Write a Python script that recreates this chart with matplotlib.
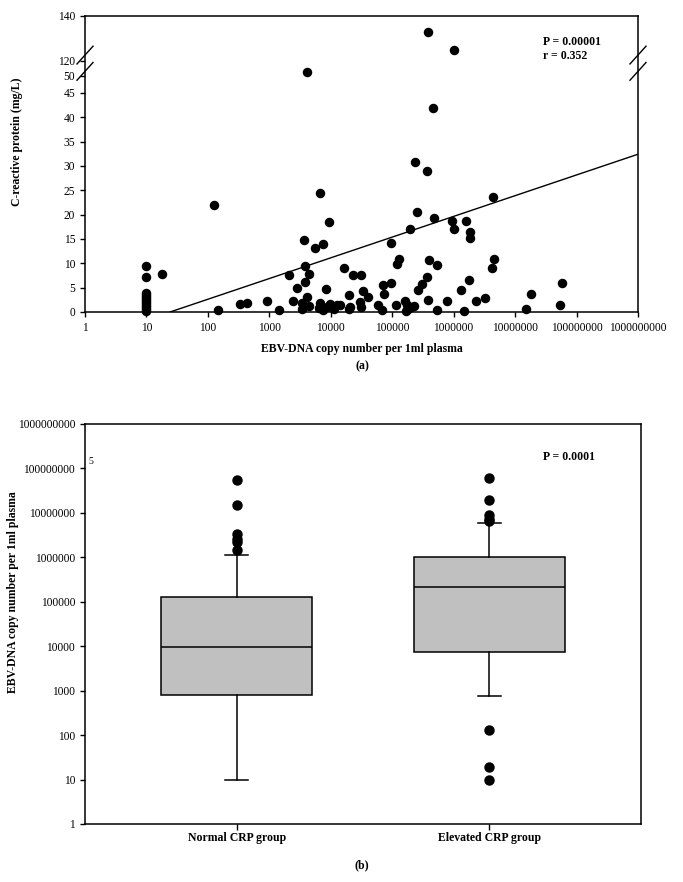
import numpy as np
import matplotlib
matplotlib.use("Agg")
import matplotlib.pyplot as plt
from matplotlib.scale import FuncScale

plt.rcParams['font.family'] = ['Liberation Serif', 'DejaVu Serif']

# (a) scatter: EBV-DNA copies vs CRP
ebv_copies = [10, 10, 10, 10, 10, 10, 10, 10, 10, 10, 10, 10,
              18, 125, 148, 334, 430, 900, 1445, 2120, 2440, 2870, 3600, 3420, 3420,
              3830, 3870, 4170, 4450, 4470, 4080, 5640, 6800, 7520, 8300, 9300,
              6700, 6500, 7400, 8600, 9800, 11300, 12600, 14200,
              16700, 22900, 31000, 34000, 39600, 19600, 19600, 20500, 30000, 31000,
              57600, 68000, 69600, 74000, 95000, 96000, 116000, 121000, 127000,
              163000, 174000, 178000, 200000, 223000, 165000, 196000, 237000, 255000,
              258000, 305000, 367000, 363000, 381000, 390000, 382000, 454000, 483000,
              535000, 535000, 780000, 940000, 1020000, 1020000, 1340000, 1480000,
              1600000, 1860000, 1840000, 1780000, 2350000, 3200000, 4200000, 4600000,
              4400000, 15000000, 18000000, 54000000, 59000000]
crp = [9.4, 7.1, 3.9, 3.5, 3.1, 2.7, 2.3, 1.9, 1.5, 1.1, 0.7, 0.3,
       7.8, 21.9, 0.4, 1.6, 1.8, 2.3, 0.5, 7.5, 2.3, 4.9, 14.8, 1.8, 0.7,
       9.4, 6.2, 3.0, 7.8, 1.2, 51, 13.1, 24.4, 13.9, 4.8, 18.5,
       1.9, 0.8, 0.4, 1.1, 1.6, 0.7, 1.4, 1.5,
       9.1, 7.5, 7.6, 4.3, 3.1, 3.5, 0.6, 1.1, 2.1, 1.0,
       1.4, 0.5, 5.6, 3.6, 6.0, 14.1, 1.4, 9.8, 10.9,
       2.3, 1.4, 0.6, 1.0, 1.3, 0.3, 17.1, 30.9, 20.6,
       4.6, 5.8, 7.2, 28.9, 132.8, 10.6, 2.4, 41.8, 19.4,
       9.65, 0.5, 2.3, 18.7, 17.0, 125, 4.5, 0.3,
       18.7, 16.5, 15.1, 6.6, 2.2, 2.9, 9.0, 10.8,
       23.6, 0.7, 3.7, 1.4, 6.0]
fit_intercept = -5.89
fit_slope = 4.254
x_ticks_a = [1, 10, 100, 1000, 10000, 100000, 1000000, 10000000, 100000000, 1000000000]
y_ticks_a = [0, 5, 10, 15, 20, 25, 30, 35, 40, 45, 50, 120, 140]

# (b) box plot stats
groups = ['Normal CRP group', 'Elevated CRP group']
box_q1 = [790, 7400]
box_med = [9800, 210000]
box_q3 = [127000, 1000000]
whisk_lo = [10, 740]
whisk_hi = [1140000, 6000000]
outliers = [[56000000, 15000000, 3300000, 2600000, 2200000, 1500000],
            [61000000, 20000000, 9100000, 7300000, 6600000, 130, 19.5, 10]]
y_ticks_b = [1, 10, 100, 1000, 10000, 100000, 1000000, 10000000, 100000000, 1000000000]

# broken y axis: 0-45 linear, 45-52 squeezed, 52-120 gap, 120-140 compressed
kx = np.array([-100, 45, 52, 120, 140, 300])
kf = np.array([-100, 45, 49.9, 51.54, 60.78, 134.7])
def fwd(y):
    return np.interp(y, kx, kf)
def inv(v):
    return np.interp(v, kf, kx)

fig = plt.figure(figsize=(6.83, 8.82), dpi=100)

ax1 = fig.add_axes([85/683, 1 - 312/882, 553/683, 296/882])
ax1.set_xscale('log')
ax1.set_yscale(FuncScale(ax1, (fwd, inv)))
ax1.scatter(ebv_copies, crp, s=34, color='black', zorder=3, clip_on=False)
xl = np.logspace(np.log10(10 ** (-fit_intercept / fit_slope)), 9, 50)
ax1.plot(xl, fit_intercept + fit_slope * np.log10(xl), color='black', lw=1.0)
ax1.set_xlim(1, 1e9)
ax1.set_ylim(0, 140)
ax1.set_xticks(x_ticks_a)
ax1.set_xticklabels([str(v) for v in x_ticks_a])
ax1.xaxis.set_minor_locator(matplotlib.ticker.NullLocator())
ax1.set_yticks(y_ticks_a)
ax1.set_yticklabels([str(v) for v in y_ticks_a])
ax1.yaxis.set_minor_locator(matplotlib.ticker.NullLocator())
ax1.tick_params(labelsize=8.3, length=3.5, width=1, direction='out')
ax1.tick_params(axis='x', pad=4)
for s in ax1.spines.values():
    s.set_linewidth(1.1)
ax1.set_xlabel('EBV-DNA copy number per 1ml plasma', fontsize=8.5, fontweight='bold')
ax1.xaxis.set_label_coords(0.5, -0.105)
ax1.set_ylabel('C-reactive protein (mg/L)', fontsize=8.5, fontweight='bold')
ax1.yaxis.set_label_coords(-0.112, 0.574)
ax1.text(0.828, 0.912, 'P = 0.00001', transform=ax1.transAxes, fontsize=8.5,
         fontweight='bold', va='center')
ax1.text(0.828, 0.865, 'r = 0.352', transform=ax1.transAxes, fontsize=8.5,
         fontweight='bold', va='center')
# break marks on both sides
for xc in (0.0, 1.0):
    for yc in (0.868, 0.813):
        ax1.plot([xc - 0.0145, xc + 0.0145], [yc - 0.03, yc + 0.03], color='black',
                 lw=1.0, transform=ax1.transAxes, clip_on=False)
fig.text(362/683, 1 - 366/882, '(a)', fontsize=8.5, fontweight='bold', ha='center', va='center')

ax2 = fig.add_axes([85/683, 1 - 824/882, 556/683, 400/882])
stats = []
for i in range(2):
    stats.append({'med': box_med[i], 'q1': box_q1[i], 'q3': box_q3[i],
                  'whislo': whisk_lo[i], 'whishi': whisk_hi[i], 'fliers': outliers[i]})
ax2.bxp(stats, positions=[1, 2], widths=0.6, capwidths=0.09, patch_artist=True,
        boxprops=dict(facecolor='#c0c0c0', edgecolor='black', linewidth=1.1),
        medianprops=dict(color='black', linewidth=1.1),
        whiskerprops=dict(color='black', linewidth=1.1),
        capprops=dict(color='black', linewidth=1.1),
        flierprops=dict(marker='o', markerfacecolor='black', markeredgecolor='black',
                        markersize=6.5))
ax2.set_yscale('log')
ax2.set_ylim(1, 1e9)
ax2.set_xlim(0.4, 2.6)
ax2.set_yticks(y_ticks_b)
ax2.set_yticklabels([str(v) for v in y_ticks_b])
ax2.yaxis.set_minor_locator(matplotlib.ticker.NullLocator())
ax2.set_xticks([1, 2])
ax2.set_xticklabels(groups, fontsize=8.5, fontweight='bold')
ax2.tick_params(axis='y', labelsize=8.3, length=3.5, width=1, direction='out')
ax2.tick_params(axis='x', length=4, width=1, direction='out', pad=2)
for s in ax2.spines.values():
    s.set_linewidth(1.1)
ax2.set_ylabel('EBV-DNA copy number per 1ml plasma', fontsize=8.5, fontweight='bold')
ax2.yaxis.set_label_coords(-0.119, 0.58)
ax2.text(0.824, 0.9175, 'P = 0.0001', transform=ax2.transAxes, fontsize=8.5,
         fontweight='bold', va='center')
ax2.text(0.006, 0.905, '5', transform=ax2.transAxes, fontsize=7, va='center')
fig.text(362/683, 1 - 865/882, '(b)', fontsize=8.5, fontweight='bold', ha='center', va='center')

fig.savefig('out.png', dpi=100)
